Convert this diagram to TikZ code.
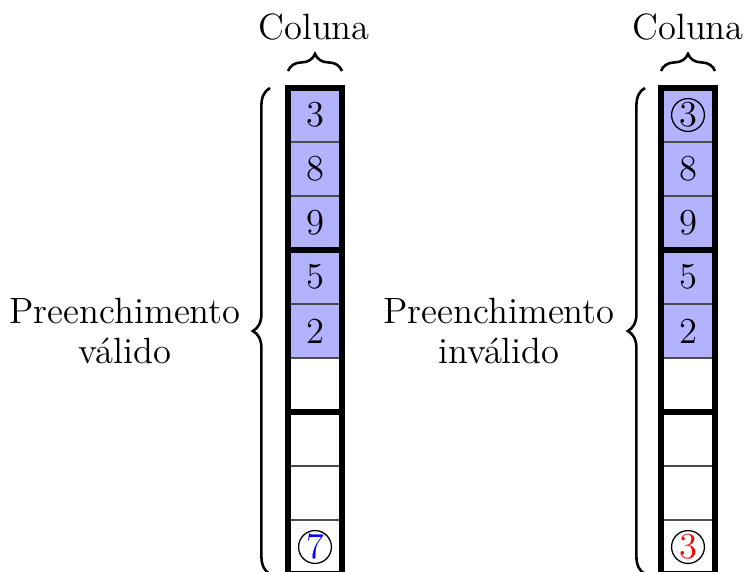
\documentclass[tikz,border=0pt]{standalone}
\usetikzlibrary{decorations.pathreplacing}
\begin{document}
\begin{tikzpicture}[x=0.35pt,y=0.35pt,
  thinline/.style={draw=black!70,line width=0.5pt},
  thickline/.style={draw=black,line width=2.1pt},
  cellfill/.style={fill=blue!30},
  digit/.style={font=\fontsize{12.8}{14}\selectfont, inner sep=0pt},
  circ/.style={digit, circle, draw=black, line width=0.45pt, minimum size=11.5pt, inner sep=0pt},
  lbl/.style={font=\fontsize{12.8}{14}\selectfont, align=center, inner sep=0pt},
  brc/.style={decorate, decoration={brace, amplitude=6pt}, line width=0.9pt}]
\useasboundingbox (0,0) rectangle (748,571);

% ---------- left column ----------
\fill[cellfill] (288,213) rectangle (342,483);
\foreach \yy in {429,375,267,213,105,51} \draw[thinline] (288,\yy) -- (342,\yy);
\draw[thickline] (288,-3) rectangle (342,483);
\draw[thickline] (288,321) -- (342,321);
\draw[thickline] (288,159) -- (342,159);
\node[digit] (L1) at (315,456) {3};
\node[digit] (L2) at (315,402) {8};
\node[digit] (L3) at (315,348) {9};
\node[digit] (L4) at (315,294) {5};
\node[digit] (L5) at (315,240) {2};
\node[circ, text=blue] (L9) at (315,24) {7};

\coordinate (LTa) at (288,500);
\coordinate (LTb) at (342,500);
\draw[brc] (LTa) -- (LTb);
\node[lbl, anchor=base] (Lcol) at (314,532) {Coluna};

\coordinate (LBa) at (270,-3);
\coordinate (LBb) at (270,483);
\draw[brc] (LBa) -- (LBb);
\node[lbl] (Llab) at (125,240) {Preenchimento\\válido};

% ---------- right column ----------
\fill[cellfill] (661,213) rectangle (715,483);
\foreach \yy in {429,375,267,213,105,51} \draw[thinline] (661,\yy) -- (715,\yy);
\draw[thickline] (661,-3) rectangle (715,483);
\draw[thickline] (661,321) -- (715,321);
\draw[thickline] (661,159) -- (715,159);
\node[circ] (R1) at (688,456) {3};
\node[digit] (R2) at (688,402) {8};
\node[digit] (R3) at (688,348) {9};
\node[digit] (R4) at (688,294) {5};
\node[digit] (R5) at (688,240) {2};
\node[circ, text=red] (R9) at (688,24) {3};

\coordinate (RTa) at (661,500);
\coordinate (RTb) at (715,500);
\draw[brc] (RTa) -- (RTb);
\node[lbl, anchor=base] (Rcol) at (688,532) {Coluna};

\coordinate (RBa) at (645,-3);
\coordinate (RBb) at (645,483);
\draw[brc] (RBa) -- (RBb);
\node[lbl] (Rlab) at (499,240) {Preenchimento\\inválido};
\end{tikzpicture}
\end{document}
